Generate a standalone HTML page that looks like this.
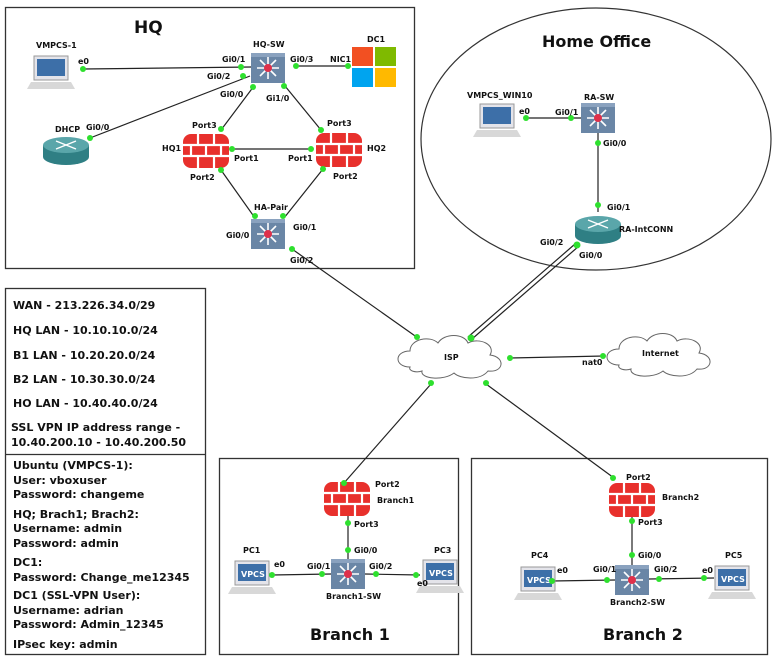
<!DOCTYPE html>
<html><head><meta charset="utf-8"><style>
html,body{margin:0;padding:0;background:#fff;}
svg{display:block;}
text{font-family:"DejaVu Sans","Liberation Sans",sans-serif;font-weight:bold;fill:#111;}
.s{font-size:8px;}
.i{font-size:11px;}
</style></head><body>
<svg width="777" height="662" viewBox="0 0 777 662" xmlns="http://www.w3.org/2000/svg">
<defs>
 <g id="sw">
  <rect x="-17" y="-15" width="34" height="30" fill="#6a86a6"/>
  <rect x="-17" y="-15" width="34" height="4" fill="#8aa2bf"/>
  <g stroke="#fff" stroke-width="1.6">
   <line x1="-11" y1="0" x2="11" y2="0"/><line x1="0" y1="-11" x2="0" y2="11"/>
   <line x1="-8" y1="-8" x2="8" y2="8"/><line x1="-8" y1="8" x2="8" y2="-8"/>
  </g>
  <circle r="4" fill="#e0304a"/>
 </g>
 <g id="fw">
  <rect x="-23" y="-17" width="46" height="34" rx="8" fill="#e8302c"/>
  <g stroke="#fff" stroke-width="2.2">
   <line x1="-23" y1="-6" x2="23" y2="-6"/><line x1="-23" y1="5" x2="23" y2="5"/>
   <line x1="-8" y1="-17" x2="-8" y2="-6"/><line x1="8" y1="-17" x2="8" y2="-6"/>
   <line x1="-15" y1="-6" x2="-15" y2="5"/><line x1="0" y1="-6" x2="0" y2="5"/><line x1="15" y1="-6" x2="15" y2="5"/>
   <line x1="-8" y1="5" x2="-8" y2="17"/><line x1="8" y1="5" x2="8" y2="17"/>
  </g>
 </g>
 <g id="rt">
  <ellipse cx="0" cy="7" rx="23" ry="8" fill="#2f7f84"/>
  <rect x="-23" y="-5" width="46" height="12" fill="#2f7f84"/>
  <ellipse cx="0" cy="-5" rx="23" ry="8" fill="#5aa6aa"/>
  <g stroke="#fff" stroke-width="1.3"><line x1="-10" y1="-9" x2="10" y2="-1"/><line x1="-10" y1="-1" x2="10" y2="-9"/></g>
 </g>
 <g id="lap">
  <rect x="-17" y="-17" width="34" height="24" fill="#e4e4ea" stroke="#999" stroke-width="1"/>
  <rect x="-14" y="-14" width="28" height="17" fill="#3d6fa8"/>
  <polygon points="-20,9 20,9 24,16 -24,16" fill="#d8d8d8"/>
 </g>
 <g id="cloud">
  <path d="M-40,10 C-56,10 -56,-6 -40,-6 C-40,-18 -20,-22 -12,-14 C-6,-24 14,-24 18,-14 C30,-20 46,-12 40,-2 C56,0 54,16 38,14 C30,24 10,22 4,16 C-6,24 -30,22 -28,14 C-34,16 -42,14 -40,10 Z" fill="#fff" stroke="#666" stroke-width="1"/>
 </g>
</defs>

<rect x="5.5" y="7.5" width="409" height="261" fill="none" stroke="#333" stroke-width="1.3"/>
<ellipse cx="596" cy="139" rx="175" ry="131" fill="none" stroke="#333" stroke-width="1.2"/>
<rect x="5.5" y="288.5" width="200" height="366" fill="none" stroke="#333" stroke-width="1.3"/>
<line x1="5" y1="454.5" x2="205" y2="454.5" stroke="#333" stroke-width="1.3"/>
<rect x="219.5" y="458.5" width="239" height="196" fill="none" stroke="#333" stroke-width="1.3"/>
<rect x="471.5" y="458.5" width="296" height="196" fill="none" stroke="#333" stroke-width="1.3"/>

<g stroke="#222" stroke-width="1.2" fill="none">
 <line x1="83" y1="69" x2="251" y2="67"/>
 <line x1="295" y1="66" x2="350" y2="66"/>
 <line x1="90" y1="138" x2="250" y2="76"/>
 <line x1="254" y1="86" x2="221" y2="130"/>
 <line x1="285" y1="86" x2="321" y2="130"/>
 <line x1="232" y1="149" x2="311" y2="149"/>
 <line x1="221" y1="170" x2="255" y2="218"/>
 <line x1="323" y1="169" x2="284" y2="218"/>
 <line x1="292" y1="249" x2="418" y2="338"/>
 <line x1="575" y1="244" x2="468" y2="337"/>
 <line x1="579" y1="246" x2="472" y2="339"/>
 <line x1="510" y1="358" x2="604" y2="356"/>
 <line x1="431" y1="384" x2="344" y2="483"/>
 <line x1="486" y1="384" x2="614" y2="478"/>
 <line x1="526" y1="118" x2="581" y2="118"/>
 <line x1="598" y1="133" x2="598" y2="212"/>
 <line x1="348" y1="515" x2="348" y2="562"/>
 <line x1="272" y1="575" x2="331" y2="574"/>
 <line x1="365" y1="574" x2="420" y2="575"/>
 <line x1="632" y1="515" x2="632" y2="568"/>
 <line x1="552" y1="581" x2="615" y2="580"/>
 <line x1="649" y1="579" x2="714" y2="578"/>
</g>

<use href="#lap" x="51" y="73"/>
<use href="#sw" x="268" y="68"/>
<g transform="translate(352,47)">
 <rect x="0" y="0" width="21" height="19" fill="#f25022"/><rect x="23" y="0" width="21" height="19" fill="#7fba00"/>
 <rect x="0" y="21" width="21" height="19" fill="#00a4ef"/><rect x="23" y="21" width="21" height="19" fill="#ffb900"/>
</g>
<use href="#rt" x="66" y="150"/>
<use href="#fw" x="206" y="151"/>
<use href="#fw" x="339" y="150"/>
<use href="#sw" x="268" y="234"/>
<use href="#cloud" x="450" y="357"/>
<use href="#cloud" x="659" y="355"/>
<use href="#lap" x="497" y="121"/>
<use href="#sw" x="598" y="118"/>
<use href="#rt" x="598" y="229"/>
<use href="#fw" x="347" y="499"/>
<use href="#sw" x="348" y="574"/>
<use href="#lap" x="252" y="578"/>
<use href="#lap" x="440" y="577"/>
<use href="#fw" x="632" y="500"/>
<use href="#sw" x="632" y="580"/>
<use href="#lap" x="538" y="584"/>
<use href="#lap" x="732" y="583"/>
<text x="241" y="577" style="font-size:8px;fill:#fff">VPCS</text>
<text x="429" y="576" style="font-size:8px;fill:#fff">VPCS</text>
<text x="527" y="583" style="font-size:8px;fill:#fff">VPCS</text>
<text x="721" y="582" style="font-size:8px;fill:#fff">VPCS</text>

<g fill="#2ee02e">
 <circle cx="83" cy="69" r="3"/><circle cx="241" cy="67" r="3"/><circle cx="243" cy="76" r="3"/>
 <circle cx="296" cy="66" r="3"/><circle cx="348" cy="66" r="3"/><circle cx="90" cy="138" r="3"/>
 <circle cx="253" cy="87" r="3"/><circle cx="284" cy="86" r="3"/><circle cx="221" cy="129" r="3"/>
 <circle cx="321" cy="130" r="3"/><circle cx="232" cy="149" r="3"/><circle cx="311" cy="149" r="3"/>
 <circle cx="221" cy="170" r="3"/><circle cx="323" cy="169" r="3"/><circle cx="255" cy="216" r="3"/>
 <circle cx="283" cy="216" r="3"/><circle cx="292" cy="249" r="3"/><circle cx="417" cy="337" r="3"/>
 <circle cx="471" cy="338" r="3.5"/><circle cx="577" cy="245" r="3.5"/><circle cx="510" cy="358" r="3"/>
 <circle cx="603" cy="356" r="3"/><circle cx="431" cy="383" r="3"/><circle cx="486" cy="383" r="3"/>
 <circle cx="526" cy="118" r="3"/><circle cx="571" cy="118" r="3"/><circle cx="598" cy="143" r="3"/>
 <circle cx="598" cy="205" r="3"/><circle cx="344" cy="483" r="3"/><circle cx="348" cy="523" r="3"/>
 <circle cx="348" cy="550" r="3"/><circle cx="272" cy="575" r="3"/><circle cx="322" cy="574" r="3"/>
 <circle cx="376" cy="574" r="3"/><circle cx="416" cy="575" r="3"/><circle cx="613" cy="478" r="3"/>
 <circle cx="632" cy="521" r="3"/><circle cx="632" cy="555" r="3"/><circle cx="552" cy="581" r="3"/>
 <circle cx="607" cy="580" r="3"/><circle cx="659" cy="579" r="3"/><circle cx="704" cy="578" r="3"/>
</g>

<text x="134" y="33" style="font-size:17px">HQ</text>
<text x="542" y="47" style="font-size:16px">Home Office</text>
<text x="310" y="640" style="font-size:16px">Branch 1</text>
<text x="603" y="640" style="font-size:16px">Branch 2</text>

<g class="s">
<text x="36" y="48" class="s">VMPCS-1</text><text x="78" y="64" class="s">e0</text>
<text x="253" y="47" class="s">HQ-SW</text><text x="222" y="62" class="s">Gi0/1</text><text x="207" y="79" class="s">Gi0/2</text>
<text x="290" y="62" class="s">Gi0/3</text><text x="330" y="62" class="s">NIC1</text><text x="367" y="42" class="s">DC1</text>
<text x="220" y="97" class="s">Gi0/0</text><text x="266" y="101" class="s">Gi1/0</text>
<text x="55" y="132" class="s">DHCP</text><text x="86" y="130" class="s">Gi0/0</text>
<text x="192" y="128" class="s">Port3</text><text x="327" y="126" class="s">Port3</text>
<text x="162" y="151" class="s">HQ1</text><text x="367" y="151" class="s">HQ2</text>
<text x="234" y="161" class="s">Port1</text><text x="288" y="161" class="s">Port1</text>
<text x="190" y="180" class="s">Port2</text><text x="333" y="179" class="s">Port2</text>
<text x="254" y="210" class="s">HA-Pair</text><text x="226" y="238" class="s">Gi0/0</text>
<text x="293" y="230" class="s">Gi0/1</text><text x="290" y="263" class="s">Gi0/2</text>
<text x="444" y="360" class="s">ISP</text><text x="642" y="356" class="s">Internet</text><text x="582" y="365" class="s">nat0</text>
<text x="467" y="98" class="s">VMPCS_WIN10</text><text x="519" y="114" class="s">e0</text>
<text x="555" y="115" class="s">Gi0/1</text><text x="584" y="100" class="s">RA-SW</text>
<text x="603" y="146" class="s">Gi0/0</text><text x="607" y="210" class="s">Gi0/1</text>
<text x="619" y="232" class="s">RA-IntCONN</text><text x="540" y="245" class="s">Gi0/2</text><text x="579" y="258" class="s">Gi0/0</text>
<text x="375" y="487" class="s">Port2</text><text x="377" y="503" class="s">Branch1</text>
<text x="354" y="527" class="s">Port3</text><text x="354" y="553" class="s">Gi0/0</text>
<text x="243" y="553" class="s">PC1</text><text x="274" y="567" class="s">e0</text>
<text x="307" y="569" class="s">Gi0/1</text><text x="369" y="569" class="s">Gi0/2</text>
<text x="434" y="553" class="s">PC3</text><text x="417" y="586" class="s">e0</text>
<text x="326" y="599" class="s">Branch1-SW</text>
<text x="626" y="480" class="s">Port2</text><text x="662" y="500" class="s">Branch2</text>
<text x="638" y="525" class="s">Port3</text><text x="638" y="558" class="s">Gi0/0</text>
<text x="531" y="558" class="s">PC4</text><text x="557" y="573" class="s">e0</text>
<text x="593" y="572" class="s">Gi0/1</text><text x="654" y="572" class="s">Gi0/2</text>
<text x="725" y="558" class="s">PC5</text><text x="702" y="573" class="s">e0</text>
<text x="610" y="605" class="s">Branch2-SW</text>
</g>

<g class="i">
<text x="13" y="309" class="i">WAN - 213.226.34.0/29</text>
<text x="13" y="334" class="i">HQ LAN - 10.10.10.0/24</text>
<text x="13" y="359" class="i">B1 LAN - 10.20.20.0/24</text>
<text x="13" y="383" class="i">B2 LAN - 10.30.30.0/24</text>
<text x="13" y="407" class="i">HO LAN - 10.40.40.0/24</text>
<text x="11" y="431" class="i">SSL VPN IP address range -</text>
<text x="11" y="446" class="i">10.40.200.10 - 10.40.200.50</text>
<text x="13" y="469" class="i">Ubuntu (VMPCS-1):</text>
<text x="13" y="484" class="i">User: vboxuser</text>
<text x="13" y="498" class="i">Password: changeme</text>
<text x="13" y="518" class="i">HQ; Brach1; Brach2:</text>
<text x="13" y="532" class="i">Username: admin</text>
<text x="13" y="547" class="i">Password: admin</text>
<text x="13" y="566" class="i">DC1:</text>
<text x="13" y="581" class="i">Password: Change_me12345</text>
<text x="13" y="599" class="i">DC1 (SSL-VPN User):</text>
<text x="13" y="614" class="i">Username: adrian</text>
<text x="13" y="628" class="i">Password: Admin_12345</text>
<text x="13" y="648" class="i">IPsec key: admin</text>
</g>
</svg>
</body></html>
